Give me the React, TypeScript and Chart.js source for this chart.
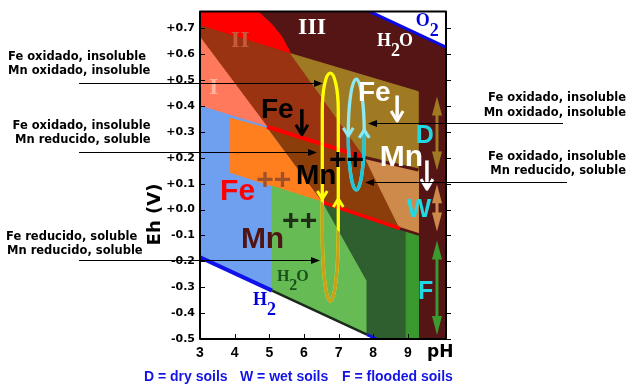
import React, { useEffect, useRef } from "react";
import { Chart, registerables } from "chart.js";

Chart.register(...registerables);

type P = [number, number];

// ---------- axes ----------
const X_MIN = 3;
const X_MAX = 10.1;
const Y_MIN = -0.5;
const Y_MAX = 0.765;
const xTicks = [3, 4, 5, 6, 7, 8, 9];
const yTicks = [-0.5, -0.4, -0.3, -0.2, -0.1, 0, 0.1, 0.2, 0.3, 0.4, 0.5, 0.6, 0.7];
const xTitle = "pH";
const yTitle = "Eh (V)";
const legendItems = ["D = dry soils", "W = wet soils", "F = flooded soils"];

// ---------- stability fields (pH, Eh) ----------
const fieldIII: P[] = [[3, -0.5], [10.1, -0.5], [10.1, 0.765], [3, 0.765]];
const fieldO2: P[] = [[7.906, 0.765], [10.1, 0.765], [10.1, 0.628]];
const fieldRed: P[] = [[3, 0.765], [4.674, 0.765], [5.08, 0.715], [5.37, 0.666], [5.62, 0.602], [3, 0.711]];
const fieldII: P[] = [[3, 0.711], [5.62, 0.602], [7.76, 0.201], [4.934, 0.32], [3, 0.666]];
const fieldOlive: P[] = [[5.62, 0.602], [9.29, 0.456], [9.29, 0.152], [7.76, 0.201]];
const fieldI: P[] = [[3, 0.666], [4.934, 0.32], [3, 0.4]];
const fieldBlue: P[] = [[3, 0.4], [4.934, 0.32], [6.55, 0.028], [5.08, 0.09], [5.08, -0.313], [3, -0.184]];
const fieldOrange: P[] = [[3.87, 0.353], [4.934, 0.314], [6.55, 0.028], [3.87, 0.144]];
const fieldBrown: P[] = [[4.934, 0.32], [7.76, 0.201], [8.772, -0.073], [6.55, 0.028]];
const fieldTan: P[] = [[7.76, 0.201], [9.3, 0.152], [9.3, -0.095], [8.772, -0.073]];
const fieldGreen: P[] = [[5.08, 0.09], [6.55, 0.028], [7.82, -0.275], [7.82, -0.483], [5.08, -0.313]];
const fieldDarkGreen: P[] = [[6.55, 0.028], [8.772, -0.073], [8.95, -0.08], [8.95, -0.5], [7.82, -0.5], [7.82, -0.275]];
const fieldMidGreen: P[] = [[8.95, -0.08], [9.3, -0.095], [9.3, -0.5], [8.95, -0.5]];
const fieldH2: P[] = [[3, -0.184], [8.1, -0.5], [3, -0.5]];

// ---------- boundary lines (pH, Eh) ----------
const lineFeUpper: P[] = [[4.934, 0.32], [7.76, 0.201]];
const lineFeLower: P[] = [[6.55, 0.028], [8.772, -0.073]];
const edgeOliveTan: P[] = [[7.76, 0.201], [9.3, 0.153]];
const edgeTanGreen: P[] = [[8.772, -0.073], [9.32, -0.096]];
const lineH2a: P[] = [[3, -0.184], [5.08, -0.313]];
const lineH2b: P[] = [[5.08, -0.313], [7.82, -0.483]];
const lineH2c: P[] = [[7.82, -0.483], [8.1, -0.5]];
const lineO2: P[] = [[7.906, 0.765], [10.1, 0.628]];

// ---------- cycles (pH centre, half-width, top, bottom Eh) ----------
const yellowCycle = { cx: 6.76, rx: 0.231, top: 0.527, bottom: -0.353, capTop: 0.145, capBot: 0.267, splitL: 0.03, splitR: -0.085, arrowL: 0.041, arrowR: 0.041 };
const cyanCycle = { cx: 7.51, rx: 0.231, top: 0.504, bottom: 0.076, capTop: 0.214, capBot: 0.214, splitL: 0.296, splitR: 0.296, arrowL: 0.285, arrowR: 0.308 };

// ---------- labels inside the plot (left x in pH, baseline in Eh) ----------
const plotLabels = [
  { t: "III", x: 5.83, y: 0.677, kind: "serif24", c: "#ffffff" },
  { t: "II", x: 3.89, y: 0.628, kind: "serif24", c: "#c85a3c" },
  { t: "I", x: 3.26, y: 0.445, kind: "serif24", c: "#ffb4a0" },
  { t: "Fe", x: 4.76, y: 0.353, kind: "sans28", c: "#000000" },
  { t: "Mn", x: 5.77, y: 0.098, kind: "sans28", c: "#000000" },
  { t: "++", x: 6.72, y: 0.157, kind: "sans30", c: "#000000" },
  { t: "Fe", x: 7.56, y: 0.418, kind: "sans28", c: "#ffffff" },
  { t: "Mn", x: 8.19, y: 0.17, kind: "sans30", c: "#ffffff" },
  { t: "D", x: 9.23, y: 0.258, kind: "sans25", c: "#22d8e2" },
  { t: "W", x: 8.97, y: -0.028, kind: "sans26", c: "#22d8e2" },
  { t: "F", x: 9.29, y: -0.344, kind: "sans25", c: "#22d8e2" },
  { t: "Fe", x: 3.58, y: 0.037, kind: "sans30", c: "#ff0000" },
  { t: "++", x: 4.62, y: 0.081, kind: "sans30", c: "#a0502a" },
  { t: "Mn", x: 4.18, y: -0.15, kind: "sans30", c: "#4f1414" },
  { t: "++", x: 5.37, y: -0.079, kind: "sans30", c: "#1f2f15" },
];
const formulas = [
  { parts: [["H", 0], ["2", 1], ["O", 0]] as [string, number][], x: 8.11, y: 0.631, size: 18, c: "#ffffff" },
  { parts: [["O", 0], ["2", 1]] as [string, number][], x: 9.23, y: 0.708, size: 18, c: "#0000dd" },
  { parts: [["H", 0], ["2", 1], ["O", 0]] as [string, number][], x: 5.22, y: -0.275, size: 16, c: "#1a501a" },
  { parts: [["H", 0], ["2", 1]] as [string, number][], x: 4.53, y: -0.37, size: 18, c: "#0000dd" },
];
const downArrows = [
  { x: 5.94, y1: 0.388, y2: 0.289, c: "#000000" },
  { x: 8.69, y1: 0.441, y2: 0.342, c: "#ffffff" },
  { x: 9.55, y1: 0.19, y2: 0.079, c: "#ffffff" },
];
const rangeArrows = [
  { x: 9.84, y1: 0.437, y2: 0.151, c: "#a07a22" },
  { x: 9.84, y1: 0.098, y2: -0.085, c: "#cd8a4a" },
  { x: 9.84, y1: -0.119, y2: -0.485, c: "#3a9a30" },
];

// ---------- side notes ----------
const notesLeft = [
  ["Fe oxidado, insoluble", "Mn oxidado, insoluble"],
  ["Fe oxidado, insoluble", "Mn reducido, soluble"],
  ["Fe reducido, soluble", "Mn reducido, soluble"],
];
const notesLeftTips: P[] = [[6.55, 0.489], [6.377, 0.2227], [6.463, -0.196]];
const notesRight = [
  ["Fe oxidado, insoluble", "Mn oxidado, insoluble"],
  ["Fe oxidado, insoluble", "Mn reducido, soluble"],
];
const notesRightTips: P[] = [[7.848, 0.333], [7.762, 0.108]];

// ---------- styles / layout ----------
const SANS = '"Liberation Sans", Arial, sans-serif';
const SERIF = '"Liberation Serif", "Times New Roman", serif';
const DEJAVU = '"DejaVu Sans", Verdana, sans-serif';
const FONTS: Record<string, string> = {
  serif24: `bold 24px ${SERIF}`,
  sans25: `bold 25px ${SANS}`,
  sans26: `bold 26px ${SANS}`,
  sans28: `bold 28px ${SANS}`,
  sans30: `bold 30px ${SANS}`,
};
const leftNoteLayout = [
  { xs: [8, 8], ys: [60, 73.5], tail: 79 },
  { xs: [12.5, 15], ys: [128.5, 142.5], tail: 79 },
  { xs: [6, 7], ys: [239.5, 253.5], tail: 79 },
];
const rightNoteLayout = [
  { right: 626, ys: [101, 115.5], tail: 563 },
  { right: 626, ys: [160, 174], tail: 567 },
];
const legendX = [144, 240, 342];

const zones: { pts: P[]; color: string }[] = [
  { pts: fieldIII, color: "#551515" },
  { pts: fieldO2, color: "#ffffff" },
  { pts: fieldRed, color: "#ff0000" },
  { pts: fieldII, color: "#9a3312" },
  { pts: fieldOlive, color: "#a07a22" },
  { pts: fieldI, color: "#ff7a5c" },
  { pts: fieldBlue, color: "#6fa0f0" },
  { pts: fieldOrange, color: "#ff7f1f" },
  { pts: fieldBrown, color: "#8b3e0a" },
  { pts: fieldTan, color: "#cd8a4a" },
  { pts: fieldGreen, color: "#66bb55" },
  { pts: fieldDarkGreen, color: "#2f5f2f" },
  { pts: fieldMidGreen, color: "#3a9a30" },
  { pts: fieldH2, color: "#ffffff" },
];
const lines: { pts: P[]; color: string; width: number }[] = [
  { pts: edgeOliveTan, color: "#551515", width: 3 },
  { pts: edgeTanGreen, color: "#551515", width: 2.5 },
  { pts: lineFeUpper, color: "#ff0000", width: 4 },
  { pts: lineFeLower, color: "#ff0000", width: 3.5 },
  { pts: lineH2a, color: "#1010e8", width: 4 },
  { pts: lineH2b, color: "#1a2a1a", width: 2.5 },
  { pts: lineH2c, color: "#1010e8", width: 3 },
  { pts: lineO2, color: "#0a0ae8", width: 3 },
];

const toXY = (pts: P[]) => pts.map(([x, y]) => ({ x, y }));

function loopPath(ctx: CanvasRenderingContext2D, xl: number, xr: number, yt: number, yb: number, ct: number, cb: number) {
  const cx = (xl + xr) / 2;
  const rx = (xr - xl) / 2;
  ctx.beginPath();
  ctx.ellipse(cx, yt + ct, rx, ct, 0, Math.PI, 2 * Math.PI);
  ctx.lineTo(xr, yb - cb);
  ctx.ellipse(cx, yb - cb, rx, cb, 0, 0, Math.PI);
  ctx.closePath();
}

function chevron(ctx: CanvasRenderingContext2D, x: number, y: number, dir: number, color: string) {
  ctx.beginPath();
  ctx.moveTo(x - 5, y - dir * 8);
  ctx.lineTo(x, y);
  ctx.lineTo(x + 5, y - dir * 8);
  ctx.strokeStyle = color;
  ctx.lineWidth = 3;
  ctx.stroke();
}

const decorPlugin = {
  id: "decor",
  afterDatasetsDraw(chart: any) {
    const ctx: CanvasRenderingContext2D = chart.ctx;
    const a = chart.chartArea;
    const xs = chart.scales.x;
    const ys = chart.scales.y;
    const X = (v: number) => xs.getPixelForValue(v);
    const Y = (v: number) => ys.getPixelForValue(v);
    ctx.save();
    ctx.lineJoin = "round";

    // cycles
    const cycles = [
      { ...yellowCycle, c1: "#ffff00", c2: "#c8a01e" },
      { ...cyanCycle, c1: "#8ee9f2", c2: "#1ec6d6" },
    ];
    for (const L of cycles) {
      const xl = X(L.cx - L.rx);
      const xr = X(L.cx + L.rx);
      const yt = Y(L.top);
      const yb = Y(L.bottom);
      const ct = Y(L.top - L.capTop) - yt;
      const cb = yb - Y(L.bottom + L.capBot);
      ctx.lineWidth = 3.3;
      ctx.strokeStyle = L.c1;
      loopPath(ctx, xl, xr, yt, yb, ct, cb);
      ctx.stroke();
      ctx.save();
      ctx.beginPath();
      ctx.moveTo(xl - 10, Y(L.splitL));
      ctx.lineTo(xl, Y(L.splitL));
      ctx.lineTo(xr, Y(L.splitR));
      ctx.lineTo(xr + 10, Y(L.splitR));
      ctx.lineTo(xr + 10, yb + 10);
      ctx.lineTo(xl - 10, yb + 10);
      ctx.closePath();
      ctx.clip();
      ctx.strokeStyle = L.c2;
      loopPath(ctx, xl, xr, yt, yb, ct, cb);
      ctx.stroke();
      ctx.restore();
      chevron(ctx, xl, Y(L.arrowL), 1, L.c1);
      chevron(ctx, xr, Y(L.arrowR), -1, L.c1);
    }

    // text labels
    ctx.textBaseline = "alphabetic";
    ctx.textAlign = "left";
    for (const l of plotLabels) {
      ctx.font = FONTS[l.kind];
      ctx.fillStyle = l.c;
      ctx.fillText(l.t, X(l.x), Y(l.y));
    }
    for (const f of formulas) {
      let px = X(f.x);
      const base = Y(f.y);
      ctx.font = `bold ${f.size}px ${SERIF}`;
      ctx.fillStyle = f.c;
      for (const [s, sub] of f.parts) {
        ctx.fillText(s, px, base + (sub ? f.size * 0.56 : 0));
        px += ctx.measureText(s).width - (sub ? 1 : 0);
      }
    }

    // down arrows (precipitation)
    for (const d of downArrows) {
      const x = X(d.x);
      const y1 = Y(d.y1);
      const y2 = Y(d.y2);
      ctx.strokeStyle = d.c;
      ctx.lineWidth = 3.5;
      ctx.beginPath();
      ctx.moveTo(x, y1);
      ctx.lineTo(x, y2 - 1);
      ctx.stroke();
      ctx.lineWidth = 3;
      ctx.beginPath();
      ctx.moveTo(x - 6, y2 - 10);
      ctx.lineTo(x, y2);
      ctx.lineTo(x + 6, y2 - 10);
      ctx.stroke();
    }

    // range arrows in right column
    for (const r of rangeArrows) {
      const x = X(r.x);
      const yT = Y(r.y1);
      const yB = Y(r.y2);
      ctx.strokeStyle = r.c;
      ctx.fillStyle = r.c;
      ctx.lineWidth = 3;
      ctx.beginPath();
      ctx.moveTo(x, yT + 15);
      ctx.lineTo(x, yB - 15);
      ctx.stroke();
      ctx.beginPath();
      ctx.moveTo(x, yT);
      ctx.lineTo(x - 5, yT + 19);
      ctx.lineTo(x + 5, yT + 19);
      ctx.closePath();
      ctx.fill();
      ctx.beginPath();
      ctx.moveTo(x, yB);
      ctx.lineTo(x - 5, yB - 19);
      ctx.lineTo(x + 5, yB - 19);
      ctx.closePath();
      ctx.fill();
    }

    // border + tick marks
    ctx.strokeStyle = "#000";
    ctx.lineWidth = 2;
    ctx.strokeRect(a.left, a.top, a.right - a.left, a.bottom - a.top);
    ctx.lineWidth = 1;
    ctx.beginPath();
    for (const t of ys.ticks) {
      const py = Math.round(Y(t.value)) + 0.5;
      ctx.moveTo(a.left, py);
      ctx.lineTo(a.left + 5, py);
      ctx.moveTo(a.right, py);
      ctx.lineTo(a.right + 5, py);
    }
    for (const t of xs.ticks) {
      const px = Math.round(X(t.value)) + 0.5;
      ctx.moveTo(px, a.bottom);
      ctx.lineTo(px, a.bottom - 5);
    }
    ctx.stroke();

    // axis titles
    ctx.fillStyle = "#000";
    ctx.font = `bold 17px ${DEJAVU}`;
    ctx.textAlign = "left";
    ctx.fillText(xTitle, 427, 357);
    ctx.save();
    ctx.translate(155, 214.5);
    ctx.rotate(-Math.PI / 2);
    ctx.font = `bold 18px ${DEJAVU}`;
    ctx.textAlign = "center";
    ctx.textBaseline = "middle";
    ctx.fillText(yTitle, 0, 0);
    ctx.restore();

    // legend line
    ctx.font = `bold 14px ${SANS}`;
    ctx.fillStyle = "#1414e6";
    ctx.textAlign = "left";
    ctx.textBaseline = "alphabetic";
    legendItems.forEach((s, i) => ctx.fillText(s, legendX[i], 381));

    // side notes
    ctx.font = `bold 11.5px ${DEJAVU}`;
    ctx.fillStyle = "#000";
    ctx.strokeStyle = "#000";
    ctx.lineWidth = 1;
    notesLeft.forEach((ls, i) => {
      const lay = leftNoteLayout[i];
      ctx.textAlign = "left";
      ls.forEach((s, j) => ctx.fillText(s, lay.xs[j], lay.ys[j]));
      const tx = X(notesLeftTips[i][0]);
      const ty = Math.round(Y(notesLeftTips[i][1])) + 0.5;
      ctx.beginPath();
      ctx.moveTo(lay.tail, ty);
      ctx.lineTo(tx - 6, ty);
      ctx.stroke();
      ctx.beginPath();
      ctx.moveTo(tx, ty);
      ctx.lineTo(tx - 9, ty - 3.5);
      ctx.lineTo(tx - 9, ty + 3.5);
      ctx.closePath();
      ctx.fill();
    });
    notesRight.forEach((ls, i) => {
      const lay = rightNoteLayout[i];
      ctx.textAlign = "right";
      ls.forEach((s, j) => ctx.fillText(s, lay.right, lay.ys[j]));
      const tx = X(notesRightTips[i][0]);
      const ty = Math.round(Y(notesRightTips[i][1])) + 0.5;
      ctx.beginPath();
      ctx.moveTo(lay.tail, ty);
      ctx.lineTo(tx + 6, ty);
      ctx.stroke();
      ctx.beginPath();
      ctx.moveTo(tx, ty);
      ctx.lineTo(tx + 9, ty - 3.5);
      ctx.lineTo(tx + 9, ty + 3.5);
      ctx.closePath();
      ctx.fill();
    });
    ctx.restore();
  },
};

const fmtY = (v: number) => {
  if (Math.abs(v) < 1e-9) return "+0.0";
  return (v > 0 ? "+" : "") + v.toFixed(1);
};

export default function App() {
  const ref = useRef<HTMLCanvasElement>(null);
  useEffect(() => {
    if (!ref.current) return;
    const all: any[] = [
      ...zones.map((z) => ({
        data: toXY([...z.pts, z.pts[0]]),
        borderColor: z.color,
        backgroundColor: z.color,
        borderWidth: 1,
        borderJoinStyle: "bevel",
        fill: "shape",
        pointRadius: 0,
        tension: 0,
      })),
      ...lines.map((l) => ({
        data: toXY(l.pts),
        borderColor: l.color,
        backgroundColor: l.color,
        borderWidth: l.width,
        fill: false,
        pointRadius: 0,
        tension: 0,
      })),
    ];
    const datasets = all.map((d, i) => ({ ...d, order: all.length - i }));
    const chart = new Chart(ref.current, {
      type: "line",
      data: { datasets },
      options: {
        responsive: false,
        animation: false,
        devicePixelRatio: 1,
        events: [],
        layout: { padding: { left: 140, right: 189, top: 7, bottom: 0 } },
        plugins: {
          legend: { display: false },
          tooltip: { enabled: false },
          filler: { propagate: false, drawTime: "beforeDatasetDraw" },
        },
        scales: {
          x: {
            type: "linear",
            min: X_MIN,
            max: X_MAX,
            afterBuildTicks: (s: any) => {
              s.ticks = xTicks.map((v) => ({ value: v }));
            },
            afterFit: (s: any) => {
              s.height = 48;
            },
            grid: { display: false, drawTicks: false },
            border: { display: false },
            ticks: {
              autoSkip: false,
              maxRotation: 0,
              padding: 6,
              color: "#000",
              font: { family: SANS, size: 14, weight: "bold" },
              callback: (v: any) => String(v),
            },
          },
          y: {
            type: "linear",
            min: Y_MIN,
            max: Y_MAX,
            afterBuildTicks: (s: any) => {
              s.ticks = yTicks.map((v) => ({ value: v }));
            },
            afterFit: (s: any) => {
              s.width = 60;
            },
            grid: { display: false, drawTicks: false },
            border: { display: false },
            ticks: {
              autoSkip: false,
              padding: 5,
              color: "#000",
              font: { family: DEJAVU, size: 11, weight: "bold" },
              callback: (v: any) => fmtY(Number(v)),
            },
          },
        },
      } as any,
      plugins: [decorPlugin],
    });
    return () => chart.destroy();
  }, []);
  return (
    <div style={{ position: "fixed", left: 0, top: 0, width: 635, height: 387, background: "#fff" }}>
      <canvas ref={ref} width={635} height={387} style={{ display: "block", width: 635, height: 387 }} />
    </div>
  );
}
